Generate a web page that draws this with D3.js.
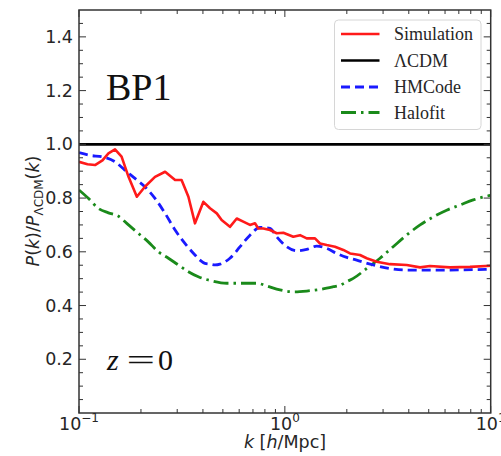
<!DOCTYPE html>
<html>
<head>
<meta charset="utf-8">
<script src="https://cdn.jsdelivr.net/npm/d3@7"></script>
<style>
  html, body { margin: 0; padding: 0; background: #fff; }
  svg { display: block; }
</style>
</head>
<body>
<svg id="chart" width="501" height="456"></svg>
<script>
// Ratio of non-linear matter power spectra to ΛCDM for model BP1 at z = 0.

// Simulation (N-body) ratio
const simK = [0.100, 0.110, 0.1196, 0.130, 0.139, 0.1496, 0.161, 0.174, 0.191, 0.209, 0.234, 0.262, 0.293, 0.315, 0.340, 0.366, 0.402, 0.433, 0.467, 0.493, 0.541, 0.584, 0.628, 0.677, 0.716, 0.743, 0.786, 0.847, 0.913, 0.983, 1.099, 1.185, 1.277, 1.401, 1.482, 1.597, 1.752, 1.923, 2.073, 2.318, 2.498, 2.795, 3.242, 3.908, 4.536, 5.07, 6.34, 7.93, 10.0];
const simRatio = [0.935, 0.926, 0.923, 0.940, 0.966, 0.981, 0.954, 0.879, 0.805, 0.842, 0.879, 0.898, 0.867, 0.867, 0.805, 0.706, 0.786, 0.762, 0.743, 0.718, 0.693, 0.724, 0.712, 0.700, 0.706, 0.687, 0.687, 0.681, 0.669, 0.671, 0.656, 0.662, 0.650, 0.650, 0.631, 0.625, 0.619, 0.607, 0.594, 0.588, 0.576, 0.563, 0.554, 0.551, 0.542, 0.547, 0.542, 0.544, 0.548];

// HMCode prediction
const hmK = [0.100, 0.111, 0.134, 0.1496, 0.167, 0.187, 0.209, 0.234, 0.262, 0.293, 0.327, 0.366, 0.387, 0.409, 0.433, 0.458, 0.484, 0.541, 0.606, 0.677, 0.757, 0.847, 0.913, 1.021, 1.142, 1.277, 1.428, 1.597, 1.786, 2.0, 2.234, 2.69, 3.24, 3.9, 5.67, 10.0];
const hmRatio = [0.969, 0.960, 0.951, 0.935, 0.904, 0.873, 0.842, 0.799, 0.743, 0.681, 0.631, 0.588, 0.569, 0.557, 0.554, 0.551, 0.554, 0.576, 0.619, 0.662, 0.691, 0.687, 0.656, 0.619, 0.604, 0.609, 0.621, 0.613, 0.594, 0.579, 0.569, 0.551, 0.538, 0.532, 0.532, 0.535];

// Halofit prediction
const hfK = [0.100, 0.111, 0.124, 0.139, 0.155, 0.174, 0.194, 0.217, 0.243, 0.272, 0.304, 0.340, 0.380, 0.44, 0.522, 0.628, 0.730, 0.816, 0.947, 1.099, 1.277, 1.482, 1.72, 1.86, 2.0, 2.15, 2.5, 2.9, 3.36, 3.9, 4.54, 5.26, 6.11, 7.09, 8.23, 9.56, 10.0];
const hfRatio = [0.830, 0.799, 0.762, 0.745, 0.733, 0.700, 0.669, 0.637, 0.600, 0.576, 0.551, 0.526, 0.507, 0.492, 0.483, 0.483, 0.483, 0.473, 0.458, 0.451, 0.454, 0.460, 0.470, 0.476, 0.489, 0.501, 0.538, 0.576, 0.619, 0.662, 0.700, 0.730, 0.755, 0.774, 0.793, 0.807, 0.810];

// ΛCDM reference
const lcdmK = [0.1, 10];
const lcdmRatio = [1.0, 1.0];

const yTickValues = [0.2, 0.4, 0.6, 0.8, 1.0, 1.2, 1.4];
const xTickExponents = [-1, 0, 1];

const legendLabels = ["Simulation", "ΛCDM", "HMCode", "Halofit"];

const svg = d3.select("#chart");
const plotLeft = 79, plotRight = 490.7, plotTop = 10, plotBottom = 413;

const x = d3.scaleLog().domain([0.1, 10]).range([plotLeft, plotRight]);
const y = d3.scaleLinear().domain([0, 1.5]).range([plotBottom, plotTop]);

const frameColor = "#333";
const textColor = "#262626";

const series = [
  { k: simK, v: simRatio, color: "#ff1a1a", width: 2.6, dash: null, curve: d3.curveLinear },
  { k: lcdmK, v: lcdmRatio, color: "#000", width: 2.6, dash: null, curve: d3.curveLinear },
  { k: hmK, v: hmRatio, color: "#1a1aff", width: 2.8, dash: "9,5", curve: d3.curveMonotoneX },
  { k: hfK, v: hfRatio, color: "#1a8a1a", width: 2.8, dash: "15,5,2.5,5", curve: d3.curveMonotoneX }
];

// clip region for data lines
svg.append("defs").append("clipPath").attr("id", "plotClip")
  .append("rect").attr("x", plotLeft).attr("y", plotTop)
  .attr("width", plotRight - plotLeft).attr("height", plotBottom - plotTop);

const plot = svg.append("g").attr("clip-path", "url(#plotClip)");

// draw order: ΛCDM, Halofit, HMCode, Simulation on top
[1, 3, 2, 0].forEach(i => {
  const s = series[i];
  const pts = s.k.map((k, j) => [k, s.v[j]]);
  const line = d3.line().x(d => x(d[0])).y(d => y(d[1])).curve(s.curve);
  plot.append("path")
    .attr("d", line(pts))
    .attr("fill", "none")
    .attr("stroke", s.color)
    .attr("stroke-width", s.width)
    .attr("stroke-dasharray", s.dash)
    .attr("stroke-linejoin", "round");
});

// axes with inward ticks on all four sides
const majorLen = 7, minorLen = 4;
const yMinor = d3.range(0.05, 1.5, 0.05).filter(v => !yTickValues.some(t => Math.abs(t - v) < 1e-6));
const xMajor = xTickExponents.map(e => Math.pow(10, e));
const xMinor = [];
for (let d = 0.1; d < 9.99; d *= 10) for (let m = 2; m <= 9; m++) xMinor.push(d * m);

const axisG = svg.append("g").attr("stroke", frameColor).attr("stroke-width", 1);
function tick(x1, y1, x2, y2) {
  axisG.append("line").attr("x1", x1).attr("y1", y1).attr("x2", x2).attr("y2", y2);
}
yTickValues.forEach(v => { const py = y(v); tick(plotLeft, py, plotLeft + majorLen, py); tick(plotRight, py, plotRight - majorLen, py); });
yMinor.forEach(v => { const py = y(v); tick(plotLeft, py, plotLeft + minorLen, py); tick(plotRight, py, plotRight - minorLen, py); });
xMajor.forEach(v => { const px = x(v); tick(px, plotBottom, px, plotBottom - majorLen); tick(px, plotTop, px, plotTop + majorLen); });
xMinor.forEach(v => { const px = x(v); tick(px, plotBottom, px, plotBottom - minorLen); tick(px, plotTop, px, plotTop + minorLen); });

svg.append("rect")
  .attr("x", plotLeft).attr("y", plotTop)
  .attr("width", plotRight - plotLeft).attr("height", plotBottom - plotTop)
  .attr("fill", "none").attr("stroke", frameColor).attr("stroke-width", 1.5);

// y tick labels
const tickFont = "'DejaVu Sans', sans-serif";
svg.append("g").selectAll("text").data(yTickValues).join("text")
  .attr("x", plotLeft - 6).attr("y", d => y(d) + 6)
  .attr("text-anchor", "end")
  .attr("font-family", tickFont).attr("font-size", 17.5).attr("fill", textColor)
  .text(d => d.toFixed(1));

// x tick labels as powers of ten
const xl = svg.append("g");
xTickExponents.forEach(e => {
  const t = xl.append("text")
    .attr("x", x(Math.pow(10, e))).attr("y", 430)
    .attr("text-anchor", "middle")
    .attr("font-family", tickFont).attr("font-size", 17.5).attr("fill", textColor);
  t.append("tspan").text("10");
  t.append("tspan").attr("dy", -8).attr("font-size", 12).text(e < 0 ? "\u2212" + Math.abs(e) : String(e));
});

// axis titles
const xt = svg.append("text")
  .attr("x", 285).attr("y", 448).attr("text-anchor", "middle")
  .attr("font-family", tickFont).attr("font-size", 17.5).attr("fill", textColor);
xt.append("tspan").attr("font-style", "italic").text("k");
xt.append("tspan").text(" [");
xt.append("tspan").attr("font-style", "italic").text("h");
xt.append("tspan").text("/Mpc]");

const yt = svg.append("text")
  .attr("transform", "translate(39,211) rotate(-90)")
  .attr("text-anchor", "middle")
  .attr("font-family", tickFont).attr("font-size", 17.5).attr("fill", textColor);
yt.append("tspan").attr("font-style", "italic").text("P");
yt.append("tspan").text("(");
yt.append("tspan").attr("font-style", "italic").text("k");
yt.append("tspan").text(")/");
yt.append("tspan").attr("font-style", "italic").text("P");
yt.append("tspan").attr("dy", 4).attr("font-size", 12).text("ΛCDM");
yt.append("tspan").attr("dy", -4).text("(");
yt.append("tspan").attr("font-style", "italic").text("k");
yt.append("tspan").text(")");

// panel annotations
svg.append("text")
  .attr("x", 106).attr("y", 100)
  .attr("font-family", "'Liberation Serif', serif").attr("font-size", 38).attr("fill", "#111")
  .text("BP1");

// "z = 0" label, with a wide math-style equals sign
const zFont = "'Liberation Serif', serif";
const zg = svg.append("g").attr("font-family", zFont).attr("font-size", 30).attr("fill", "#111");
zg.append("text").attr("x", 107).attr("y", 370).attr("font-style", "italic").text("z");
zg.append("text").attr("x", 126.5).attr("y", 370)
  .attr("textLength", 28.5).attr("lengthAdjust", "spacingAndGlyphs").text("=");
zg.append("text").attr("x", 158).attr("y", 370).text("0");

// legend
const lg = svg.append("g");
lg.append("rect")
  .attr("x", 334.5).attr("y", 20).attr("width", 146.5).attr("height", 109.5)
  .attr("rx", 4).attr("fill", "#fff").attr("fill-opacity", 0.85)
  .attr("stroke", "#d6d6d6").attr("stroke-width", 1);
const rowY = [34, 60.5, 87, 112.5];
series.forEach((s, i) => {
  lg.append("line")
    .attr("x1", 341).attr("x2", 379.5).attr("y1", rowY[i]).attr("y2", rowY[i])
    .attr("stroke", s.color).attr("stroke-width", s.width)
    .attr("stroke-dasharray", s.dash);
  lg.append("text")
    .attr("x", 394).attr("y", rowY[i] + 6)
    .attr("font-family", "'Liberation Serif', serif").attr("font-size", 18).attr("fill", textColor)
    .text(legendLabels[i]);
});
</script>
</body>
</html>
